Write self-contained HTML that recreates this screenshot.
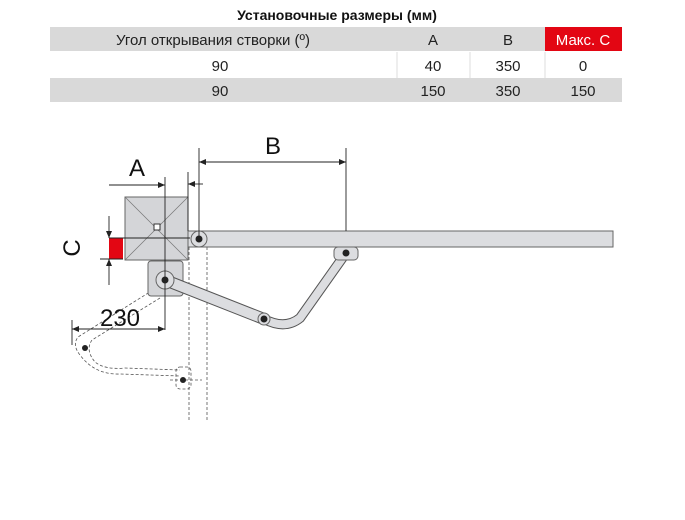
<!DOCTYPE html>
<html><head><meta charset="utf-8"><style>
body{margin:0;width:685px;height:515px;background:#fff;overflow:hidden;font-family:"Liberation Sans","DejaVu Sans",sans-serif}
</style></head><body>
<svg width="685" height="515" viewBox="0 0 685 515" xmlns="http://www.w3.org/2000/svg" font-family="Liberation Sans, DejaVu Sans, sans-serif">
<!-- table -->
<text x="337" y="20" font-size="14" font-weight="bold" text-anchor="middle" fill="#111">Установочные размеры (мм)</text>
<rect x="50" y="27" width="572" height="24" fill="#d9d9d9"/>
<rect x="545" y="27" width="77" height="24" fill="#e30613"/>
<rect x="50" y="78" width="572" height="24" fill="#d9d9d9"/>
<line x1="397" y1="52" x2="397" y2="78" stroke="#ddd"/>
<line x1="470" y1="52" x2="470" y2="78" stroke="#ddd"/>
<line x1="545" y1="52" x2="545" y2="78" stroke="#ddd"/>
<g font-size="15" fill="#222" text-anchor="middle">
<text x="213" y="45">Угол открывания створки (º)</text>
<text x="433" y="45">A</text><text x="508" y="45">B</text>
<text x="583" y="45" fill="#fff">Макс. C</text>
<text x="220" y="71">90</text><text x="433" y="71">40</text><text x="508" y="71">350</text><text x="583" y="71">0</text>
<text x="220" y="96">90</text><text x="433" y="96">150</text><text x="508" y="96">350</text><text x="583" y="96">150</text>
</g>
<!-- wall dashed -->
<g stroke="#555" stroke-width="0.8" stroke-dasharray="3,2" fill="none">
<line x1="189" y1="247" x2="189" y2="422"/>
<line x1="207" y1="247" x2="207" y2="422"/>
<!-- ghost arm -->
<path d="M153 290 L78 337 Q72 345 80 355 Q95 375 120 374 L180 376"/>
<path d="M160 298 L92 340 Q85 350 95 362 Q105 370 125 368 L180 370"/>
<rect x="176" y="367" width="15" height="22" rx="4"/>
<line x1="170" y1="380" x2="202" y2="380"/>
</g>
<circle cx="85" cy="348" r="3" fill="#222"/>
<circle cx="183" cy="380" r="3" fill="#222"/>
<!-- bar -->
<rect x="188" y="231" width="425" height="16" fill="#dcdde0" stroke="#666" stroke-width="1"/>
<circle cx="199" cy="239" r="8" fill="#dcdde0" stroke="#666"/>
<!-- motor box -->
<rect x="125" y="197" width="63" height="63" fill="#d4d5d8" stroke="#666"/>
<line x1="125" y1="197" x2="188" y2="260" stroke="#777" stroke-width="0.7"/>
<line x1="188" y1="197" x2="125" y2="260" stroke="#777" stroke-width="0.7"/>
<rect x="154" y="224" width="6" height="6" fill="#fff" stroke="#333"/>
<rect x="148" y="261" width="35" height="35" rx="3" fill="#d4d5d8" stroke="#666"/>
<!-- arms -->
<path d="M165 280 L264 319" stroke="#555" stroke-width="12" stroke-linecap="round" fill="none"/>
<path d="M165 280 L264 319" stroke="#dcdde0" stroke-width="10" stroke-linecap="round" fill="none"/>
<path d="M264 319 Q285 330 300 318 L346 253" stroke="#555" stroke-width="10" stroke-linecap="round" fill="none"/>
<path d="M264 319 Q285 330 300 318 L346 253" stroke="#dcdde0" stroke-width="8" stroke-linecap="round" fill="none"/>
<circle cx="165" cy="280" r="9" fill="#dcdde0" stroke="#666"/>
<circle cx="264" cy="319" r="6" fill="#dcdde0" stroke="#666"/>
<rect x="334" y="247" width="24" height="13" rx="4" fill="#dcdde0" stroke="#666"/>
<circle cx="199" cy="239" r="3.5" fill="#222"/>
<circle cx="165" cy="280" r="3.5" fill="#222"/>
<circle cx="264" cy="319" r="3.5" fill="#222"/>
<circle cx="346" cy="253" r="3.5" fill="#222"/>
<!-- red C -->
<rect x="109" y="238" width="14" height="21" fill="#e30613"/>
<!-- dimension lines -->
<g stroke="#222" stroke-width="0.9" fill="none">
<line x1="165" y1="177" x2="165" y2="330"/>
<line x1="109" y1="238" x2="190" y2="238"/>
<line x1="109" y1="185" x2="165" y2="185"/>
<line x1="188" y1="172" x2="188" y2="231"/>
<line x1="199" y1="148" x2="199" y2="238"/>
<line x1="346" y1="148" x2="346" y2="231"/>
<line x1="199" y1="162" x2="346" y2="162"/>
<line x1="188" y1="184" x2="203" y2="184"/>
<line x1="109" y1="216" x2="109" y2="238"/>
<line x1="109" y1="259" x2="109" y2="285"/>
<line x1="100" y1="259" x2="123" y2="259"/>
<line x1="72" y1="329" x2="165" y2="329"/>
<line x1="72" y1="320" x2="72" y2="345"/>
</g>
<g fill="#222">
<path d="M165 185 l-7 -3 v6z"/>
<path d="M199 162 l7 -3 v6z M346 162 l-7 -3 v6z"/>
<path d="M188 184 l7 -3 v6z"/>
<path d="M109 238 l-3 -7 h6z M109 259 l-3 7 h6z"/>
<path d="M72 329 l7 -3 v6z M165 329 l-7 -3 v6z"/>
</g>
<g font-size="24" fill="#111" text-anchor="middle">
<text x="137" y="176">A</text>
<text x="273" y="154">B</text>
<text x="120" y="326">230</text>
<text x="0" y="0" transform="translate(80,248) rotate(-90)">C</text>
</g>
</svg>
</body></html>
